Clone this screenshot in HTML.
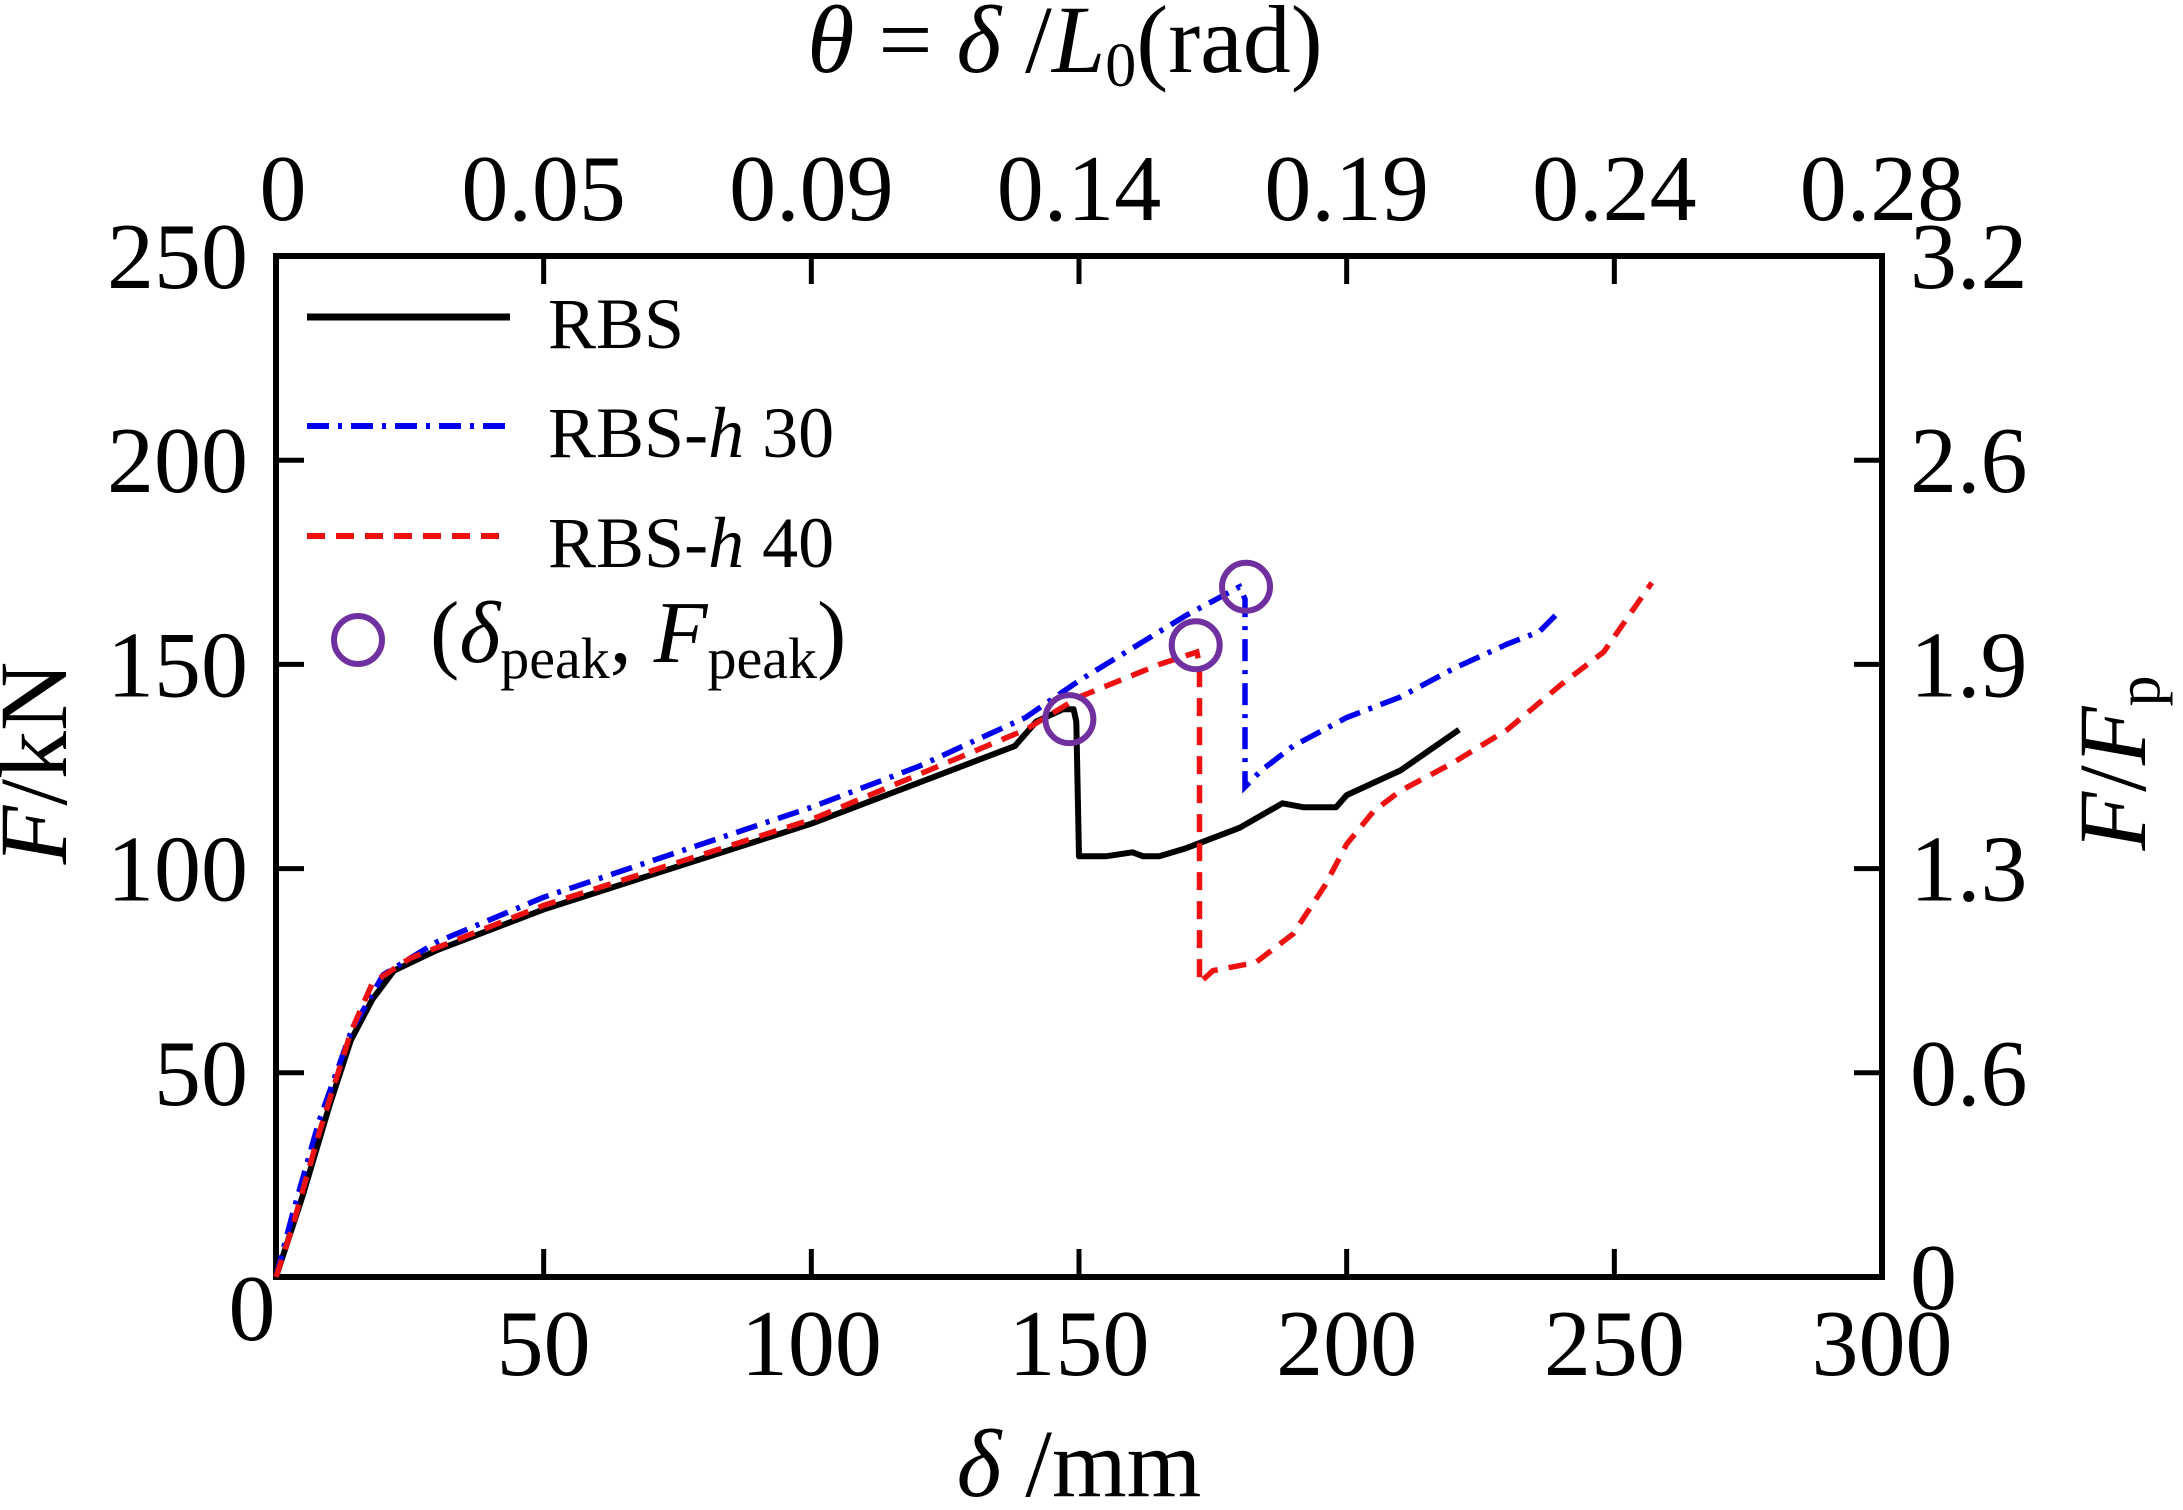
<!DOCTYPE html>
<html><head><meta charset="utf-8"><style>
html,body{margin:0;padding:0;background:#fff}
svg{display:block}
text{font-family:"Liberation Serif",serif;fill:#000}
</style></head><body>
<svg id="s" width="2183" height="1510" viewBox="0 0 2183 1510">
<g font-size="96">
<text x="1065" y="72" text-anchor="middle"><tspan font-style="italic">θ</tspan> = <tspan font-style="italic">δ</tspan> /<tspan font-style="italic">L</tspan><tspan font-size="62" dy="14">0</tspan><tspan dy="-14">(rad)</tspan></text>
<text x="1079" y="1496" text-anchor="middle"><tspan font-style="italic">δ</tspan> /mm</text>
<text transform="translate(66,763) rotate(-90)" text-anchor="middle"><tspan font-style="italic">F</tspan>/kN</text>
<text transform="translate(2145,763) rotate(-90)" text-anchor="middle"><tspan font-style="italic">F</tspan>/<tspan font-style="italic">F</tspan><tspan font-size="62" dy="14">p</tspan></text>
</g>
<g id="ax" font-size="94"></g>
<g id="cv" fill="none"></g>
<g font-size="72">
<line x1="307" y1="317" x2="510" y2="317" stroke="#000" stroke-width="7"/>
<line x1="307" y1="426" x2="510" y2="426" stroke="#0000ee" stroke-width="6" stroke-dasharray="22,9,4,9"/>
<line x1="307" y1="536" x2="510" y2="536" stroke="#ee1111" stroke-width="6" stroke-dasharray="18,11"/>
<circle cx="358" cy="640" r="24" fill="none" stroke="#7030a0" stroke-width="6"/>
<text x="548" y="348">RBS</text>
<text x="548" y="457">RBS-<tspan font-style="italic">h</tspan> 30</text>
<text x="548" y="567">RBS-<tspan font-style="italic">h</tspan> 40</text>
<text x="430" y="662" font-size="88">(<tspan font-style="italic">δ</tspan><tspan font-size="58" dy="16">peak</tspan><tspan dy="-16">, </tspan><tspan font-style="italic">F</tspan><tspan font-size="58" dy="16">peak</tspan><tspan dy="-16">)</tspan></text>
</g>
</svg>
<script>
var L=276,R=1882,T=256,B=1277;
function X(x){return L+(R-L)*x/300}
function Y(y){return B-(B-T)*y/250}
var ns="http://www.w3.org/2000/svg";
function el(p,t,a,txt){var e=document.createElementNS(ns,t);for(var k in a)e.setAttribute(k,a[k]);if(txt!=null)e.textContent=txt;p.appendChild(e);return e}
var ax=document.getElementById('ax');
el(ax,'rect',{x:L,y:T,width:R-L,height:B-T,fill:'none',stroke:'#000','stroke-width':6});
var tops=['0','0.05','0.09','0.14','0.19','0.24','0.28'];
for(var i=0;i<=6;i++){var x=X(i*50);
 if(i>0&&i<6){el(ax,'line',{x1:x,y1:B,x2:x,y2:B-28,stroke:'#000','stroke-width':5});
 el(ax,'line',{x1:x,y1:T,x2:x,y2:T+28,stroke:'#000','stroke-width':5});}
 if(i>0)el(ax,'text',{x:x,y:1375,'text-anchor':'middle'},String(i*50));
 el(ax,'text',{x:(i==0?283:x),y:220,'text-anchor':'middle'},tops[i]);}
el(ax,'text',{x:252,y:1340,'text-anchor':'middle'},'0');
var rl=['0','0.6','1.3','1.9','2.6','3.2'];
for(var j=0;j<=5;j++){var y=Y(j*50);
 if(j>0&&j<5){el(ax,'line',{x1:L,y1:y,x2:L+28,y2:y,stroke:'#000','stroke-width':5});
 el(ax,'line',{x1:R,y1:y,x2:R-28,y2:y,stroke:'#000','stroke-width':5});}
 if(j>0)el(ax,'text',{x:248,y:y+32,'text-anchor':'end'},String(j*50));
 el(ax,'text',{x:1910,y:y+32},rl[j]);}
var cv=document.getElementById('cv');
function P(d){return d.map(function(p){return X(p[0]).toFixed(1)+','+Y(p[1]).toFixed(1)}).join(' ')}
var red=[[0,0],[3,12],[8,35],[14,60],[18,72],[25,78],[50,91],[100,112],[140,134],[150,142],[165,150],[172,153],[172.5,150],[172.5,72],[175,75],[183,77],[190,84],[196,96],[200,106],[205,114],[210,119],[220,126],[230,134],[240,145],[248,153],[257,170]];
var blue=[[0,0],[3,15],[8,38],[14,60],[20,74],[30,82],[50,93],[100,115],[120,125],[140,137],[150,146],[170,162],[180,169],[181,166],[181,120],[184,124],[190,130],[200,137],[210,142],[220,149],[230,155],[236,158],[239,162]];
var blk=[[0,0],[5,20],[10,42],[14,58],[18,68],[22,75],[30,80],[50,90],[100,111],[130,126],[138,130],[142,136],[147,139],[149,139],[149.5,136],[150,103],[155,103],[160,104],[162,103],[165,103],[170,105],[180,110],[188,116],[192,115],[198,115],[200,118],[210,124],[221,134]];
el(cv,'polyline',{points:P(blk),stroke:'#000','stroke-width':6,'stroke-linejoin':'round'});
el(cv,'polyline',{points:P(blue),stroke:'#0000ee','stroke-width':5.5,'stroke-dasharray':'22,9,4,9'});
el(cv,'polyline',{points:P(red),stroke:'#ee1111','stroke-width':5.5,'stroke-dasharray':'18,11'});
[[148.2,136.6],[171.8,154.7],[181.2,169]].forEach(function(c){el(cv,'circle',{cx:X(c[0]),cy:Y(c[1]),r:24,stroke:'#7030a0','stroke-width':6})});
</script>
</body></html>
